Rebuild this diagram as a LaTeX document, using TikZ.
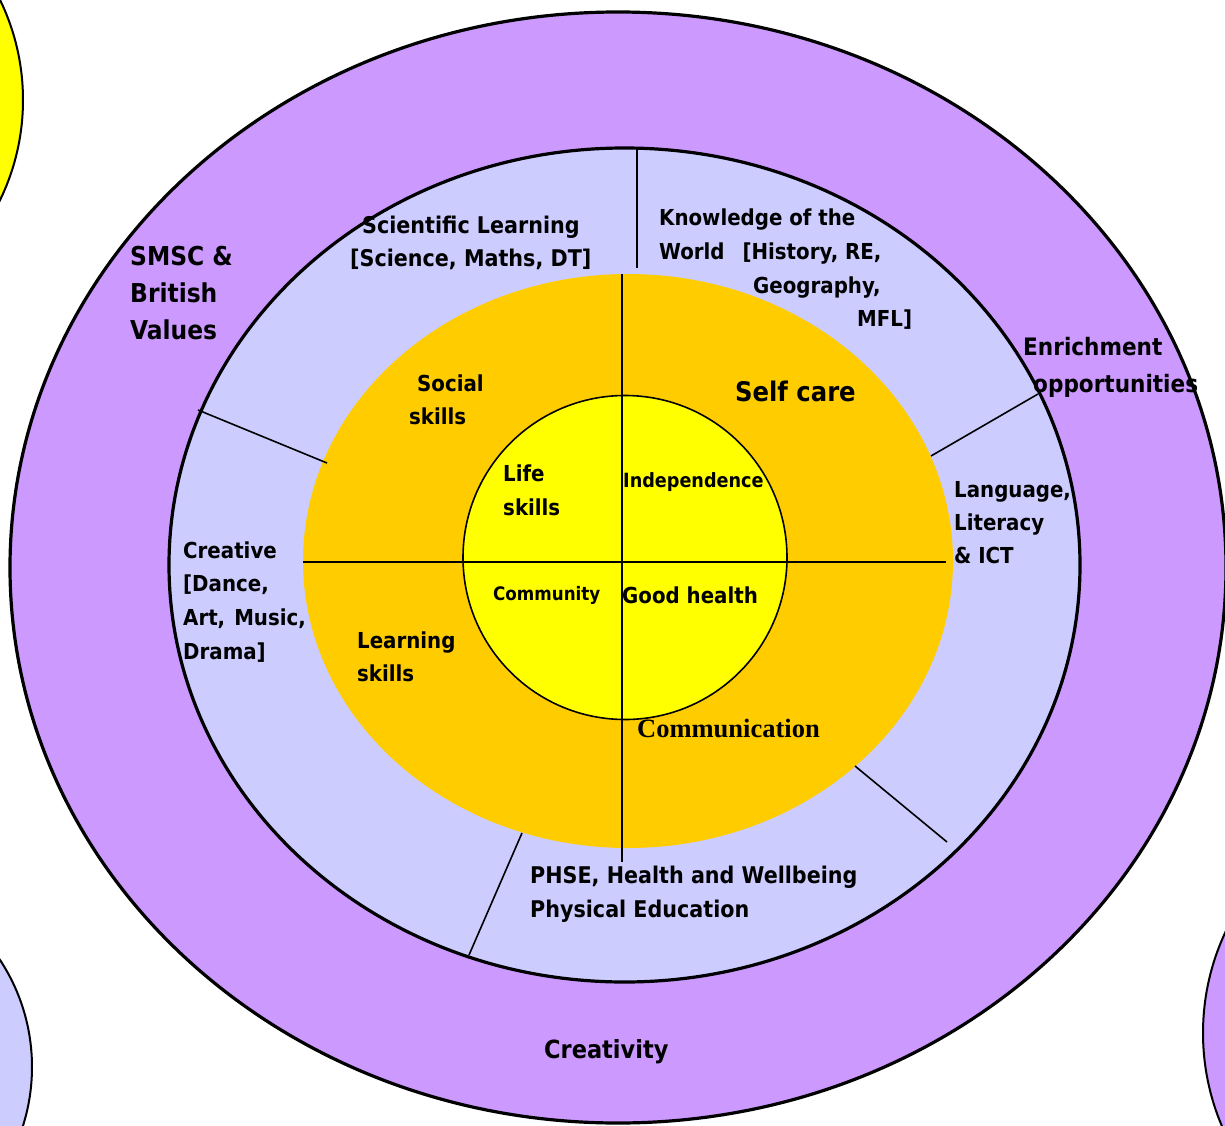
\documentclass[tikz,border=0pt]{standalone}
\usepackage{fontspec}
\setmainfont{DejaVu Sans Condensed}
\newfontfamily\serifbold{Liberation Serif}
\definecolor{lav}{HTML}{CC99FF}
\definecolor{pale}{HTML}{CCCCFF}
\definecolor{gold}{HTML}{FFCC00}
\definecolor{yel}{HTML}{FFFF00}
\tikzset{
  lbl/.style={anchor=mid west, inner sep=0pt, yshift=-6pt, font=\bfseries\fontsize{22}{22}\selectfont},
  lblm/.style={lbl, font=\bfseries\fontsize{23}{23}\selectfont},
  lblbig/.style={lbl, font=\bfseries\fontsize{24}{24}\selectfont},
  lblsmall/.style={lbl, yshift=1pt, font=\bfseries\fontsize{19}{19}\selectfont},
  divider/.style={line width=1.6pt},
  rim/.style={line width=3.2pt}
}
\begin{document}
\begin{tikzpicture}[x=1pt,y=-1pt]
\useasboundingbox (0,0) rectangle (1225,1126);
% corner circles
\draw[fill=yel, line width=2pt] (-206,100) circle (229);
\draw[fill=pale, line width=2pt] (-163,1067) circle (195);
\draw[fill=lav, line width=2pt] (1441,1033) circle (238);
% rings
\draw[rim, fill=lav] (618,567.5) ellipse (608 and 555.5);
\draw[rim, fill=pale] (624.5,565) ellipse (455.5 and 417);
\fill[gold] (628,561) ellipse (325 and 287);
\draw[line width=1.6pt, fill=yel] (625,557.5) circle (162);
% dividers
\coordinate (vt) at (622,274);
\coordinate (vb) at (622,862);
\coordinate (hl) at (303,562);
\coordinate (hr) at (946,562);
\draw[divider] (vt) -- (vb);
\draw[divider] (hl) -- (hr);
\coordinate (t1) at (637,149);
\coordinate (t2) at (637,268);
\draw[divider] (t1) -- (t2);
\coordinate (ul1) at (198,410);
\coordinate (ul2) at (327,463);
\draw[divider] (ul1) -- (ul2);
\coordinate (ur1) at (931,456);
\coordinate (ur2) at (1038,394);
\draw[divider] (ur1) -- (ur2);
\coordinate (lr1) at (855,766);
\coordinate (lr2) at (947,842);
\draw[divider] (lr1) -- (lr2);
\coordinate (ll1) at (522,833);
\coordinate (ll2) at (469,955);
\draw[divider] (ll1) -- (ll2);
% texts
\node[lbl, font=\bfseries\fontsize{26}{26}\selectfont] (smsc1) at (130,257) {SMSC \&};
\node[lbl, font=\bfseries\fontsize{26}{26}\selectfont] (smsc2) at (130,294) {British};
\node[lbl, font=\bfseries\fontsize{26}{26}\selectfont] (smsc3) at (130,331) {Values};
\node[lblm] (sci1) at (362,225) {Scientific Learning};
\node[lblm] (sci2) at (350,258) {[Science, Maths, DT]};
\node[lbl] (kw1) at (659,217) {Knowledge of the};
\node[lbl] (kw2) at (659,251) {World\hspace{18pt}[History, RE,};
\node[lbl] (kw3) at (753,285) {Geography,};
\node[lbl] (kw4) at (857,318) {MFL]};
\node[lblbig] (enr1) at (1023,347) {Enrichment};
\node[lblbig] (enr2) at (1033,384) {opportunities};
\node[lbl, font=\bfseries\fontsize{27}{27}\selectfont] (self) at (735,393) {Self care};
\node[lbl] (soc1) at (417,383) {Social};
\node[lbl] (soc2) at (409,416) {skills};
\node[lbl] (life1) at (503,473) {Life};
\node[lbl] (life2) at (503,507) {skills};
\node[lblsmall, font=\bfseries\fontsize{19.6}{19.6}\selectfont] (indep) at (623,480) {Independence};
\node[lblsmall, font=\bfseries\fontsize{18.6}{18.6}\selectfont] (comm) at (493,593) {Community};
\node[lbl] (lang1) at (954,489) {Language,};
\node[lbl] (lang2) at (954,522) {Literacy};
\node[lbl] (lang3) at (954,555) {\& ICT};
\node[lbl] (cre1) at (183,550) {Creative};
\node[lbl] (cre2) at (183,583) {[Dance,};
\node[lbl] (cre3) at (183,617) {Art,\hspace{9pt}Music,};
\node[lbl] (cre4) at (183,651) {Drama]};
\node[lbl] (health) at (622,595) {Good health};
\node[lbl] (learn1) at (357,640) {Learning};
\node[lbl] (learn2) at (357,673) {skills};
\node[lbl, font=\serifbold\bfseries\fontsize{26.5}{26.5}\selectfont] (commu) at (637,729) {Communication};
\node[lblm] (phse1) at (530,875) {PHSE, Health and Wellbeing};
\node[lblm] (phse2) at (530,909) {Physical Education};
\node[lbl, font=\bfseries\fontsize{25}{25}\selectfont] (crea) at (544,1050) {Creativity};
\end{tikzpicture}
\end{document}
